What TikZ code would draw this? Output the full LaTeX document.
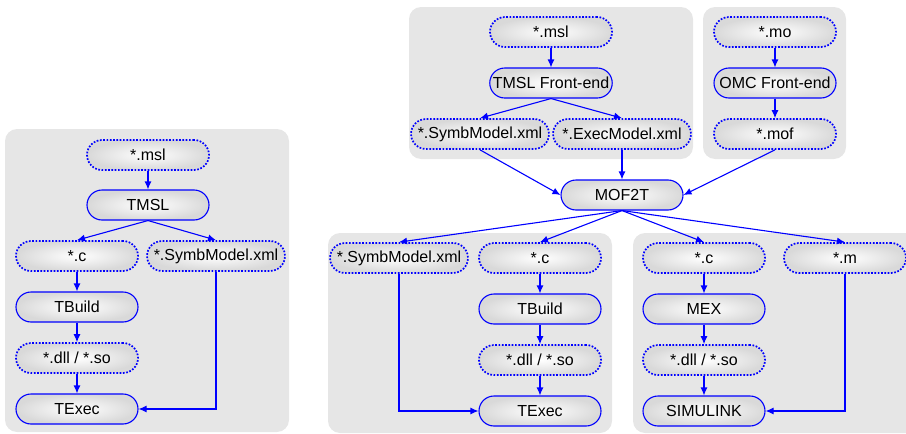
\documentclass[tikz,border=0pt]{standalone}
\usepackage{fontspec}
\setmainfont{Liberation Sans}
\usepackage{xcolor}
\usetikzlibrary{arrows.meta,shapes,positioning}
\definecolor{panelgray}{RGB}{230,230,230}
\tikzset{
	toolblock/.style = {
		rectangle,
		align = center,
		minimum width = 122pt,
		minimum height = 30pt,
		inner xsep = 3pt,
		rounded corners = 15pt,
		line width = 1.1pt,
		draw = blue,
		inner color = white,
		outer color = black!15,
		font = \fontsize{16}{19}\selectfont,
	},
	fileblock/.style = {
		toolblock,
		line width = 1.7pt,
		dash pattern = on 1.7pt off 1.6pt,
	},
	panel/.style = {
		fill = panelgray,
		rounded corners = 12pt,
	}
}

\begin{document}
\begin{tikzpicture}[x = 1pt, y = 1pt, node distance = 51pt, >={Latex[length=8pt,width=7pt]}]
	\useasboundingbox (0,0) rectangle (906,-434);
	% background panels
	\fill[panel](5,-129) rectangle (289,-432);
	\fill[panel](409,-7) rectangle (693,-159);
	\fill[panel](703,-7) rectangle (846,-159);
	\fill[panel](328,-233) rectangle (612,-433);
	\fill[panel](633,-233) rectangle (930,-433);
	
	% left chain
	\node[fileblock](mslA) at (148,-155){*.msl};
	\node[toolblock](tmsl) at (148,-205){TMSL};
	\node[fileblock](cA) at (77,-256){*.c};
	\node[fileblock, minimum width = 138pt](symbA) at (216,-256){*.SymbModel.xml};
	\node[toolblock, below of = cA](tbuildA){TBuild};
	\node[fileblock, below of = tbuildA](dllA){*.dll / *.so};
	\node[toolblock, below of = dllA](texecA){TExec};
	
	% front-ends
	\node[fileblock](mslB) at (551,-32){*.msl};
	\node[toolblock](tmslfront) at (551,-83){TMSL Front-end};
	\node[fileblock, minimum width = 138pt](symbB) at (480,-134){*.SymbModel.xml};
	\node[fileblock, minimum width = 138pt](execB) at (622,-134){*.ExecModel.xml};
	\node[fileblock](mo) at (775,-32){*.mo};
	\node[toolblock, below of = mo](omcfront){OMC Front-end};
	\node[fileblock, below of = omcfront](mof){*.mof};
	\node[toolblock](mof2t) at (622,-195){MOF2T};
	
	% targets
	\node[fileblock, minimum width = 138pt](symbC) at (399,-258){*.SymbModel.xml};
	\node[fileblock](cC) at (540,-258){*.c};
	\node[toolblock, below of = cC](tbuildC){TBuild};
	\node[fileblock, below of = tbuildC](dllC){*.dll / *.so};
	\node[toolblock, below of = dllC](texecC){TExec};
	\node[fileblock](cD) at (704,-258){*.c};
	\node[fileblock](mD) at (845,-258){*.m};
	\node[toolblock, below of = cD](mex){MEX};
	\node[fileblock, below of = mex](dllD){*.dll / *.so};
	\node[toolblock, below of = dllD](simulink){SIMULINK};
	
	\begin{scope}[draw = blue, line width = 1.1pt]
	\draw[->](mslA)--(tmsl);
	\draw[->](tmsl.south)--(cA.north);
	\draw[->](tmsl.south)--(symbA.north);
	\draw[->](cA)--(tbuildA);
	\draw[->](tbuildA)--(dllA);
	\draw[->](dllA)--(texecA);
	\draw[->](symbA.south)|-(texecA.east);
	
	\draw[->](mslB)--(tmslfront);
	\draw[->](tmslfront.south)--(symbB.north);
	\draw[->](tmslfront.south)--(execB.north);
	\draw[->](mo)--(omcfront);
	\draw[->](omcfront)--(mof);
	\draw[->](symbB.south)--(mof2t.west);
	\draw[->](execB)--(mof2t);
	\draw[->](mof.south)--(mof2t.east);
	
	\draw[->](mof2t.south)--(symbC.north);
	\draw[->](mof2t.south)--(cC.north);
	\draw[->](mof2t.south)--(cD.north);
	\draw[->](mof2t.south)--(mD.north);
	\draw[->](cC)--(tbuildC);
	\draw[->](tbuildC)--(dllC);
	\draw[->](dllC)--(texecC);
	\draw[->](symbC.south)|-(texecC.west);
	\draw[->](cD)--(mex);
	\draw[->](mex)--(dllD);
	\draw[->](dllD)--(simulink);
	\draw[->](mD.south)|-(simulink.east);
	\end{scope}
\end{tikzpicture}
\end{document}
